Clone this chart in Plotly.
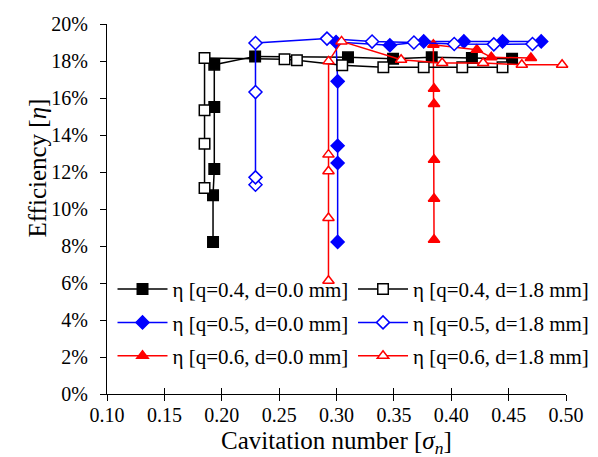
import plotly.graph_objects as go

# cavitation number (x) and efficiency (y, fraction) per series
s04_d00 = [0.1924, 0.1924, 0.1935, 0.1935, 0.1935, 0.2291, 0.310, 0.3493, 0.383, 0.418, 0.453]
e04_d00 = [0.0822, 0.1074, 0.1216, 0.1551, 0.1780, 0.1825, 0.1820, 0.1812, 0.1820, 0.1816, 0.1812]

s04_d18 = [0.185, 0.185, 0.185, 0.185, 0.2547, 0.2655, 0.305, 0.3408, 0.376, 0.4096, 0.4447]
e04_d18 = [0.1114, 0.1353, 0.1534, 0.1816, 0.1810, 0.1804, 0.1777, 0.1766, 0.1766, 0.1766, 0.1766]

s05_d00 = [0.301, 0.301, 0.301, 0.301, 0.2996, 0.3465, 0.376, 0.411, 0.4447, 0.4784]
e05_d00 = [0.0822, 0.1249, 0.1342, 0.1690, 0.1903, 0.1885, 0.1906, 0.1906, 0.1906, 0.1906]

s05_d18 = [0.2294, 0.2294, 0.2294, 0.2294, 0.2917, 0.331, 0.3675, 0.4026, 0.4371, 0.4708]
e05_d18 = [0.1131, 0.1171, 0.1632, 0.1897, 0.1921, 0.1905, 0.1900, 0.1892, 0.1890, 0.1892]

s06_d00 = [0.385, 0.385, 0.385, 0.385, 0.385, 0.3844, 0.4223, 0.4349, 0.4694]
e06_d00 = [0.0834, 0.1056, 0.1266, 0.1568, 0.1650, 0.1888, 0.1861, 0.1820, 0.1816]

s06_d18 = [0.293, 0.293, 0.293, 0.293, 0.2931, 0.3044, 0.3563, 0.3921, 0.4278, 0.4615, 0.4966]
e06_d18 = [0.0612, 0.0951, 0.1204, 0.1294, 0.1798, 0.1906, 0.1807, 0.1789, 0.1789, 0.1780, 0.1780]

FONT = "Liberation Serif"
BLACK, BLUE, RED = "#000000", "#0000FF", "#FF0000"

# filled markers go in the left legend column, open ones in the right
series = [
    ("η [q=0.4, d=0.0 mm]", s04_d00, e04_d00, BLACK, "square", 10.5, True),
    ("η [q=0.5, d=0.0 mm]", s05_d00, e05_d00, BLUE, "diamond", 10, True),
    ("η [q=0.6, d=0.0 mm]", s06_d00, e06_d00, RED, "triangle-up", 10, True),
    ("η [q=0.4, d=1.8 mm]", s04_d18, e04_d18, BLACK, "square", 10.5, False),
    ("η [q=0.5, d=1.8 mm]", s05_d18, e05_d18, BLUE, "diamond", 10, False),
    ("η [q=0.6, d=1.8 mm]", s06_d18, e06_d18, RED, "triangle-up", 10, False),
]

fig = go.Figure()
for i, (name, xs, ys, col, sym, size, filled) in enumerate(series):
    fig.add_trace(go.Scatter(
        x=xs, y=ys, name=name, mode="lines+markers",
        legend="legend" if filled else "legend2", legendgroup=f"g{i}",
        line=dict(color=col, width=1.5),
        marker=dict(symbol=sym, size=size, color=col if filled else "white",
                    line=dict(color=col, width=1.5)),
        cliponaxis=False,
    ))

# second x axis only to draw the inner half of the crossing x ticks
fig.add_trace(go.Scatter(x=[0.1, 0.5], y=[0, 0], xaxis="x2", mode="none",
                         showlegend=False, hoverinfo="skip"))

leg_common = dict(orientation="v", xanchor="left", yanchor="top", y=0.338,
                  font=dict(family=FONT, size=21, color="black"),
                  bgcolor="rgba(0,0,0,0)", tracegroupgap=3, itemwidth=50)

fig.update_layout(
    width=598, height=457,
    paper_bgcolor="white", plot_bgcolor="white",
    font=dict(family=FONT, color="black", size=20),
    margin=dict(l=99, r=24, t=16, b=71),
    legend=dict(x=0.012, **leg_common),
    legend2=dict(x=0.536, **leg_common),
    xaxis=dict(range=[0.1, 0.5], dtick=0.05, tickformat=".2f", showgrid=False,
               zeroline=False, showline=True, linecolor="black", linewidth=1.2,
               ticks="outside", ticklen=6, tickcolor="black", automargin=False,
               ticklabelstandoff=-3, tickfont=dict(family=FONT, size=20)),
    xaxis2=dict(range=[0.1, 0.5], dtick=0.05, overlaying="x", matches="x",
                showgrid=False, zeroline=False, showline=False, showticklabels=False,
                ticks="inside", ticklen=6, tickcolor="black", side="bottom"),
    yaxis=dict(range=[0, 0.2], dtick=0.02, tickformat=".0%", showgrid=False,
               zeroline=False, showline=True, linecolor="black", linewidth=1.2,
               ticks="outside", ticklen=6, tickcolor="black", ticklabelstandoff=8,
               automargin=False, tickfont=dict(family=FONT, size=20)),
    annotations=[
        dict(text="Cavitation number [<i>σ</i><sub><i>n</i></sub>]",
             xref="paper", yref="paper", x=0.5, y=-0.132,
             xanchor="center", yanchor="middle", showarrow=False,
             font=dict(family=FONT, size=25)),
        dict(text="Efficiency [<i>η</i>]", textangle=-90,
             xref="paper", yref="paper", x=-0.152, y=0.61,
             xanchor="center", yanchor="middle", showarrow=False,
             font=dict(family=FONT, size=25)),
    ],
)

fig.write_html("out.html")
